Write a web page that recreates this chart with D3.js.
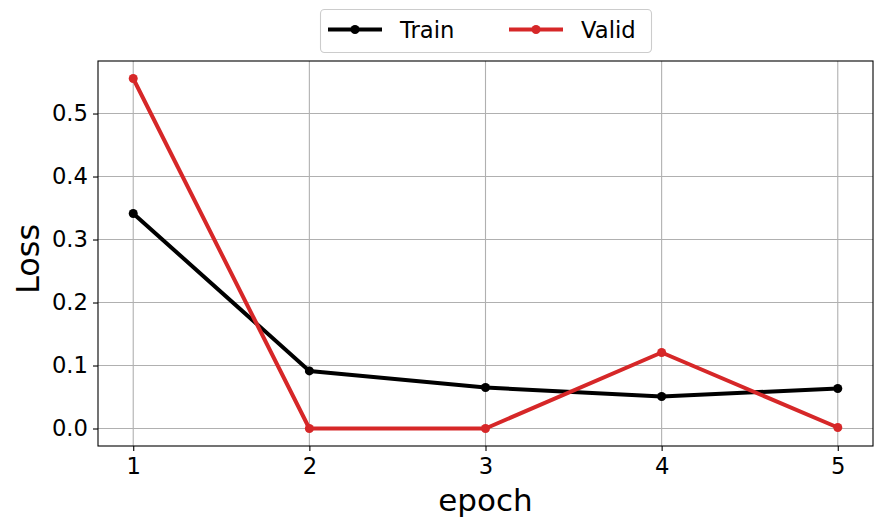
<!DOCTYPE html>
<html>
<head>
<meta charset="utf-8">
<script src="https://cdn.jsdelivr.net/npm/d3@7"></script>
<style>
  body { margin: 0; background: #fff; }
  text { font-family: "DejaVu Sans", sans-serif; fill: #000; }
</style>
</head>
<body>
<div id="chart"></div>
<script>
// data
const epochs = [1, 2, 3, 4, 5];
const trainLoss = [0.3413, 0.0914, 0.0651, 0.0508, 0.0635];
const validLoss = [0.5556, 0.0, 0.0, 0.1206, 0.0016];
const yTicks = [0.0, 0.1, 0.2, 0.3, 0.4, 0.5];
const seriesNames = ["Train", "Valid"];
const seriesColors = ["#000000", "#d62728"];

const W = 883, H = 528;
const margin = { top: 61, right: 10, bottom: 82, left: 98 };
const width = W - margin.left - margin.right;
const height = H - margin.top - margin.bottom;

const svg = d3.select("#chart").append("svg")
    .attr("width", W)
    .attr("height", H);

const g = svg.append("g")
    .attr("transform", "translate(" + margin.left + "," + margin.top + ")");

// matplotlib style 5% margins
let yMax = d3.max(validLoss.concat(trainLoss)), yMin = 0;
let yPad = (yMax - yMin) * 0.05;
const x = d3.scaleLinear().domain([0.8, 5.2]).range([0, width]);
const y = d3.scaleLinear().domain([yMin - yPad, yMax + yPad]).range([height, 0]);

// grid
g.append("g").selectAll("line").data(epochs).join("line")
    .attr("x1", d => x(d)).attr("x2", d => x(d))
    .attr("y1", 0).attr("y2", height)
    .attr("stroke", "#b0b0b0").attr("stroke-width", 1.1);
g.append("g").selectAll("line").data(yTicks).join("line")
    .attr("y1", d => y(d)).attr("y2", d => y(d))
    .attr("x1", 0).attr("x2", width)
    .attr("stroke", "#b0b0b0").attr("stroke-width", 1.1);

// axes
const xAxis = d3.axisBottom(x).tickValues(epochs).tickSize(5).tickPadding(6).tickFormat(d3.format("d"));
const yAxis = d3.axisLeft(y).tickValues(yTicks).tickSize(5).tickPadding(5).tickFormat(d3.format(".1f"));

const gx = g.append("g").attr("transform", "translate(0," + height + ")").call(xAxis);
const gy = g.append("g").call(yAxis);
[gx, gy].forEach(a => {
    a.select(".domain").remove();
    a.selectAll(".tick line").attr("stroke", "#000").attr("stroke-width", 1.1);
    a.selectAll(".tick text").style("font-family", "DejaVu Sans").style("font-size", "22.7px").attr("fill", "#000");
});
gx.selectAll(".tick text").attr("dy", "0.74em");

// frame
g.append("rect")
    .attr("width", width).attr("height", height)
    .attr("fill", "none").attr("stroke", "#000").attr("stroke-width", 1.1);

// lines
const line = d3.line().x((d, i) => x(epochs[i])).y(d => y(d));
[trainLoss, validLoss].forEach((s, k) => {
    g.append("path")
        .datum(s)
        .attr("d", line)
        .attr("fill", "none")
        .attr("stroke", seriesColors[k])
        .attr("stroke-width", 4)
        .attr("stroke-linejoin", "round");
    g.append("g").selectAll("circle").data(s).join("circle")
        .attr("cx", (d, i) => x(epochs[i]))
        .attr("cy", d => y(d))
        .attr("r", 4.5)
        .attr("fill", seriesColors[k]);
});

// axis labels
svg.append("text")
    .attr("x", margin.left + width / 2)
    .attr("y", 511)
    .attr("text-anchor", "middle")
    .style("font-size", "31px")
    .text("epoch");
svg.append("text")
    .attr("transform", "translate(39,259) rotate(-90)")
    .attr("text-anchor", "middle")
    .style("font-size", "32px")
    .text("Loss");

// legend
const legend = svg.append("g");
legend.append("rect")
    .attr("x", 320.5).attr("y", 9.5)
    .attr("width", 331).attr("height", 43)
    .attr("rx", 4)
    .attr("fill", "#fff").attr("fill-opacity", 0.8)
    .attr("stroke", "#cccccc").attr("stroke-width", 1.1);
const legendX = [328, 509];
seriesNames.forEach((name, k) => {
    let lx = legendX[k];
    legend.append("line")
        .attr("x1", lx).attr("x2", lx + 54)
        .attr("y1", 29.5).attr("y2", 29.5)
        .attr("stroke", seriesColors[k]).attr("stroke-width", 4);
    legend.append("circle")
        .attr("cx", lx + 27).attr("cy", 29.5).attr("r", 4.5)
        .attr("fill", seriesColors[k]);
    legend.append("text")
        .attr("x", lx + 72).attr("y", 38)
        .style("font-size", "22.7px")
        .text(name);
});
</script>
</body>
</html>
